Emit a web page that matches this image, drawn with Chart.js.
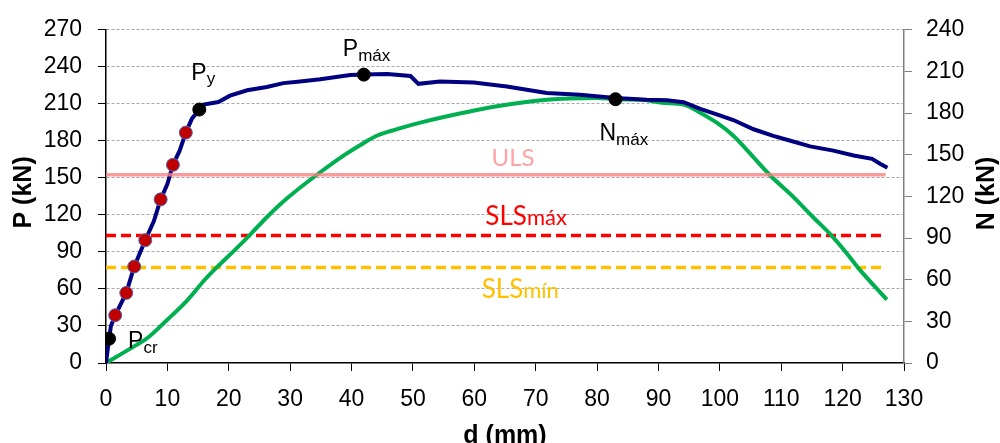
<!DOCTYPE html>
<html>
<head>
<meta charset="utf-8">
<script src="https://cdn.jsdelivr.net/npm/chart.js@4/dist/chart.umd.min.js"></script>
<style>
  html, body { margin: 0; padding: 0; background: #fff; }
  #wrap { width: 1000px; height: 443px; position: relative; }
</style>
</head>
<body>
<div id="wrap"><canvas id="chart"></canvas></div>
<script>
// P (kN) vs d (mm), left axis
const dP = [0, 0.3, 0.5, 0.8, 1.5, 3.3, 4.6, 6.4, 7.8, 8.9, 10.0, 10.9, 12.0, 13.0, 14.0, 15.2, 15.9, 18.3, 20.2, 23.0, 26.2, 28.9, 31.6, 34.9, 39.8, 42.0, 45.8, 49.6, 50.9, 54.4, 59.9, 65.3, 71.8, 77.2, 83.0, 88.1, 91.4, 94.1, 96.8, 99.5, 102.2, 105.5, 108.7, 111.5, 114.7, 118.5, 121.8, 124.8, 126.1, 127.3]
const pP = [0, 12, 19.7, 30, 38.7, 56.8, 78.2, 99.5, 115, 132.6, 145, 160.6, 172, 186.7, 198, 205.4, 209.4, 211.5, 216.6, 221, 223.6, 226.8, 228.1, 230, 233.4, 233.7, 234.2, 232.6, 226.2, 228.1, 227.3, 224.1, 218.8, 217.4, 214.8, 213.4, 212.9, 211.3, 206, 201.4, 196.9, 189.4, 184.1, 180.1, 175.5, 172.1, 168.1, 165.4, 161.4, 158.2]

// N (kN) vs d (mm), right axis
const dN = [0, 4.5, 6.7, 9.9, 13.2, 16.2, 18.0, 20.8, 23.5, 26.2, 29.5, 34.3, 38.7, 42.0, 44.1, 47.4, 51.2, 58.2, 63.7, 71.8, 79.9, 83.0, 88.1, 90.5, 94.1, 96.8, 99.5, 102.2, 104.5, 108.1, 112.0, 115.2, 118.2, 120.5, 122.5, 127.2]
const nN = [0, 11.8, 17.8, 30.8, 45, 60.5, 68.7, 80.6, 92.5, 105, 118.6, 135.4, 149.4, 158.5, 163.7, 168.4, 173.1, 180.2, 185, 189.7, 190.9, 190, 189.3, 187.5, 186.2, 180.3, 173.1, 163.7, 153, 135.6, 119.5, 105, 91.8, 80, 68.7, 45.7]

// marked load steps on the P curve
const dSteps = [1.5, 3.3, 4.6, 6.4, 8.9, 10.9, 13.0]
const pSteps = [38.7, 56.8, 78.2, 99.5, 132.6, 160.6, 186.7]

// Pcr, Py, Pmax
const dKey = [0.5, 15.2, 42.0]
const pKey = [19.7, 205.4, 233.7]
const keyNames = ['cr', 'y', 'máx']
// Nmax
const dNmax = [83.0]
const nNmax = [190]

// limit states (kN on P axis)
const limitRange = [0, 127]
const ulsP = 152.6
const slsMaxP = 103.3
const slsMinP = 77.3

const xTicks = [0, 10, 20, 30, 40, 50, 60, 70, 80, 90, 100, 110, 120, 130]
const pTicks = [0, 30, 60, 90, 120, 150, 180, 210, 240, 270]
const nTicks = [0, 30, 60, 90, 120, 150, 180, 210, 240]

const pts = (xs, ys) => xs.map((x, i) => ({x: x, y: ys[i]}))
const flat = v => limitRange.map(x => ({x: x, y: v}))

const FONT = "'Liberation Sans', Arial, sans-serif"
const LFONT = "Lato, 'Open Sans', sans-serif"

const labels = {
    id: 'labels',
    afterDraw(chart) {
        const {ctx, scales} = chart
        const x = scales.x, yl = scales.y, yr = scales.y2
        ctx.save()
        ctx.textBaseline = 'alphabetic'
        ctx.textAlign = 'left'

        const sub = (main, s, px, py, color, mainFont, subFont, dy) => {
            ctx.fillStyle = color
            ctx.font = mainFont
            ctx.fillText(main, px, py)
            const w = ctx.measureText(main).width
            ctx.font = subFont
            ctx.fillText(s, px + w, py + dy)
        }

        const big = '23px ' + FONT
        const small = '17px ' + FONT
        // Pcr
        sub('P', keyNames[0], x.getPixelForValue(dKey[0]) + 19, yl.getPixelForValue(pKey[0]) + 9, '#000', big, small, 5)
        // Py
        sub('P', keyNames[1], x.getPixelForValue(dKey[1]) - 8, yl.getPixelForValue(pKey[1]) - 30, '#000', big, small, 4)
        // Pmax
        sub('P', keyNames[2], x.getPixelForValue(dKey[2]) - 21, yl.getPixelForValue(pKey[2]) - 19, '#000', big, small, 5)
        // Nmax
        sub('N', 'máx', x.getPixelForValue(dNmax[0]) - 16, yr.getPixelForValue(nNmax[0]) + 41, '#000', big, small, 5)

        // limit state labels
        ctx.fillStyle = '#ffa3a3'
        ctx.font = '24px ' + LFONT
        ctx.fillText('ULS', x.getPixelForValue(62.8), yl.getPixelForValue(ulsP) - 9)
        sub('SLS', 'máx', x.getPixelForValue(61.8), yl.getPixelForValue(slsMaxP) - 11, '#ff0000', '26px ' + LFONT, '22px ' + LFONT, 0)
        sub('SLS', 'mín', x.getPixelForValue(61.2), yl.getPixelForValue(slsMinP) + 30, '#ffc000', '26px ' + LFONT, '22px ' + LFONT, 0)

        // axis titles
        ctx.fillStyle = '#000'
        ctx.font = 'bold 25px ' + FONT
        ctx.textAlign = 'center'
        ctx.textBaseline = 'middle'
        const midY = (chart.chartArea.top + chart.chartArea.bottom) / 2
        ctx.save()
        ctx.translate(24, midY - 4)
        ctx.rotate(-Math.PI / 2)
        ctx.fillText('P (kN)', 0, 0)
        ctx.restore()
        ctx.save()
        ctx.translate(987, midY - 3)
        ctx.rotate(-Math.PI / 2)
        ctx.fillText('N (kN)', 0, 0)
        ctx.restore()
        ctx.textBaseline = 'alphabetic'
        ctx.fillText('d (mm)', (chart.chartArea.left + chart.chartArea.right) / 2, 443)
        ctx.restore()
    }
}

new Chart(document.getElementById('chart'), {
    type: 'scatter',
    data: {
        datasets: [
            {
                label: 'Nmax',
                data: pts(dNmax, nNmax),
                yAxisID: 'y2',
                pointRadius: 6.5,
                pointBackgroundColor: '#000',
                pointBorderColor: '#000',
                order: 0
            },
            {
                label: 'key',
                data: pts(dKey, pKey),
                yAxisID: 'y',
                pointRadius: 6.5,
                pointBackgroundColor: '#000',
                pointBorderColor: '#000',
                order: 0
            },
            {
                label: 'steps',
                data: pts(dSteps, pSteps),
                yAxisID: 'y',
                pointRadius: 6.5,
                pointBackgroundColor: '#c00000',
                pointBorderColor: '#5068b0',
                pointBorderWidth: 1,
                order: 1
            },
            {
                label: 'P',
                data: pts(dP, pP),
                yAxisID: 'y',
                showLine: true,
                borderColor: '#000080',
                borderWidth: 4,
                pointRadius: 0,
                tension: 0,
                order: 2
            },
            {
                label: 'N',
                data: pts(dN, nN),
                yAxisID: 'y2',
                showLine: true,
                borderColor: '#00b050',
                borderWidth: 4,
                pointRadius: 0,
                cubicInterpolationMode: 'monotone',
                order: 3
            },
            {
                label: 'ULS',
                data: flat(ulsP),
                yAxisID: 'y',
                showLine: true,
                borderColor: 'rgba(250,130,130,0.8)',
                borderWidth: 3.5,
                pointRadius: 0,
                order: 1.5
            },
            {
                label: 'SLSmax',
                data: flat(slsMaxP),
                yAxisID: 'y',
                showLine: true,
                borderColor: '#ff0000',
                borderWidth: 3.5,
                borderDash: [10, 5],
                pointRadius: 0,
                order: 4
            },
            {
                label: 'SLSmin',
                data: flat(slsMinP),
                yAxisID: 'y',
                showLine: true,
                borderColor: '#ffc000',
                borderWidth: 3.5,
                borderDash: [10, 5],
                pointRadius: 0,
                order: 4
            }
        ]
    },
    options: {
        responsive: true,
        maintainAspectRatio: false,
        animation: false,
        layout: { padding: { top: 26, left: 0, right: 0, bottom: 0 } },
        plugins: {
            legend: { display: false },
            tooltip: { enabled: false }
        },
        scales: {
            x: {
                type: 'linear',
                min: 0,
                max: 130,
                afterFit: s => { s.height = 80 },
                afterBuildTicks: s => { s.ticks = xTicks.map(v => ({value: v})) },
                ticks: {
                    color: '#000',
                    font: { family: FONT, size: 23 },
                    padding: 15,
                    maxRotation: 0
                },
                grid: {
                    drawOnChartArea: false,
                    tickLength: 8,
                    tickColor: '#000'
                },
                border: { color: '#000', width: 1.5 }
            },
            y: {
                position: 'left',
                min: 0,
                max: 270,
                afterFit: s => { s.width = 106 },
                afterBuildTicks: s => { s.ticks = pTicks.map(v => ({value: v})) },
                ticks: {
                    color: '#000',
                    font: { family: FONT, size: 23 },
                    padding: 16
                },
                grid: {
                    color: ctx => ctx.tick && ctx.tick.value === 0 ? 'rgba(0,0,0,0)' : '#a8a8a8',
                    lineWidth: 1,
                    tickLength: 8,
                    tickColor: '#000',
                    tickBorderDash: []
                },
                border: { color: '#000', width: 1.5, dash: [3, 2] }
            },
            y2: {
                position: 'right',
                min: 0,
                max: 240,
                afterFit: s => { s.width = 96 },
                afterBuildTicks: s => { s.ticks = nTicks.map(v => ({value: v})) },
                ticks: {
                    color: '#000',
                    font: { family: FONT, size: 23 },
                    padding: 14
                },
                grid: {
                    drawOnChartArea: false,
                    tickLength: 8,
                    tickColor: '#808080'
                },
                border: { color: '#808080', width: 1.5 }
            }
        }
    },
    plugins: [labels]
})
</script>
</body>
</html>
